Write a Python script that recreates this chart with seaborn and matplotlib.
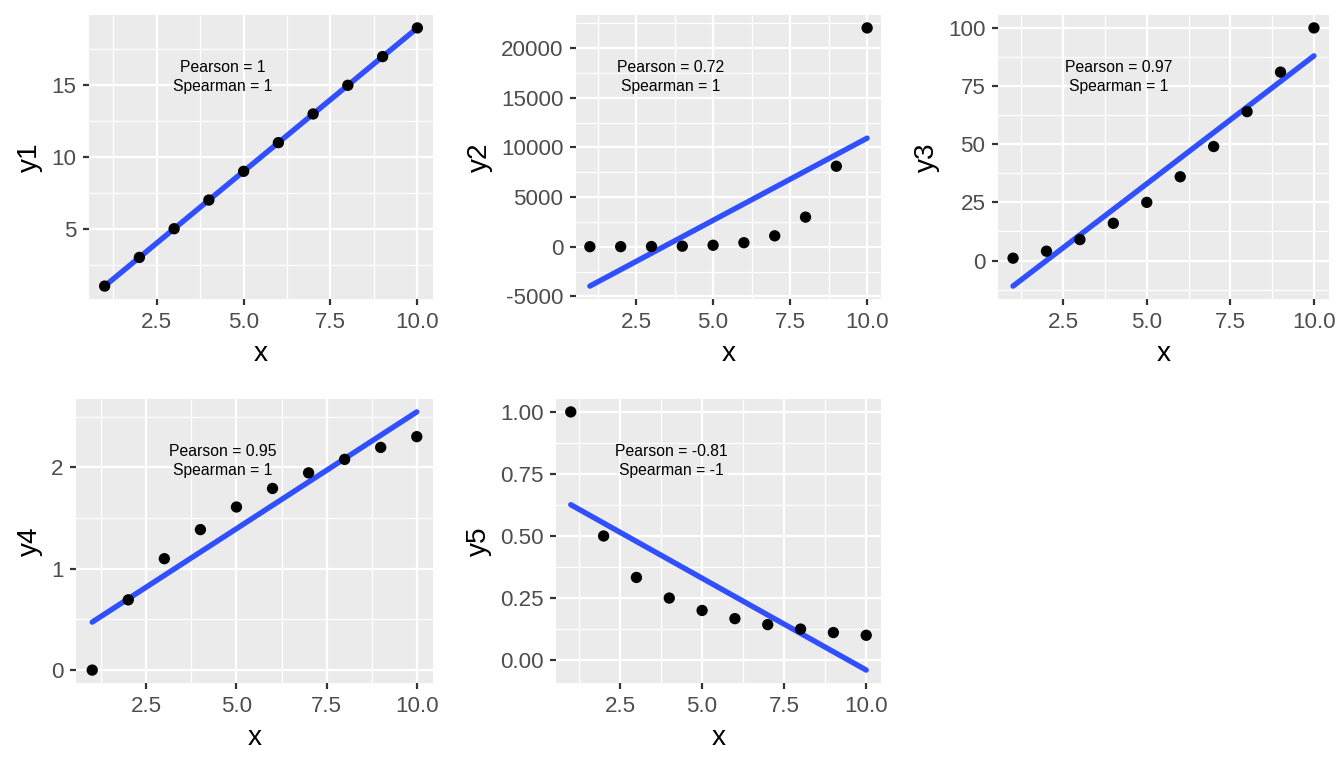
import numpy as np
import pandas as pd
import seaborn as sns
import matplotlib.pyplot as plt
from matplotlib.ticker import FixedLocator, FormatStrFormatter

# data
x = [1, 2, 3, 4, 5, 6, 7, 8, 9, 10]
y1 = [1, 3, 5, 7, 9, 11, 13, 15, 17, 19]
y2 = [2.718, 7.389, 20.09, 54.6, 148.4, 403.4, 1096.6, 2981, 8103, 22026]
y3 = [1, 4, 9, 16, 25, 36, 49, 64, 81, 100]
y4 = [0, 0.693, 1.099, 1.386, 1.609, 1.792, 1.946, 2.079, 2.197, 2.303]
y5 = [1, 0.5, 0.333, 0.25, 0.2, 0.167, 0.143, 0.125, 0.111, 0.1]
names = ["y1", "y2", "y3", "y4", "y5"]
pearson = ["1", "0.72", "0.97", "0.95", "-0.81"]
spearman = ["1", "1", "1", "1", "-1"]
x_ticks = [2.5, 5.0, 7.5, 10.0]
y_ticks = [[5, 10, 15], [-5000, 0, 5000, 10000, 15000, 20000],
           [0, 25, 50, 75, 100], [0, 1, 2], [0, 0.25, 0.5, 0.75, 1.0]]
y_fmt = ["%d", "%d", "%d", "%d", "%.2f"]

df = pd.DataFrame({"x": x, "y1": y1, "y2": y2, "y3": y3, "y4": y4, "y5": y5})

sns.set_theme(style="white")
plt.rcParams["font.family"] = ["Liberation Sans", "DejaVu Sans"]
plt.rcParams["axes.unicode_minus"] = False

W, H = 1344, 768
fig = plt.figure(figsize=(W / 144, H / 144), dpi=144)

# panel extents in pixels: (left, top, right, bottom), and cell origin
panels = [(89, 15, 433, 299), (576, 15, 881, 299), (998, 15, 1329, 299),
          (76, 399, 433, 683), (556, 399, 881, 683)]
cells = [(0, 0), (448, 0), (896, 0), (0, 384), (448, 384)]

for i, name in enumerate(names):
    l, t, r, b = panels[i]
    ax = fig.add_axes([l / W, 1 - b / H, (r - l) / W, (b - t) / H])
    ax.set_facecolor("#EBEBEB")
    for s in ax.spines.values():
        s.set_visible(False)

    sns.regplot(data=df, x="x", y=name, ax=ax, scatter=False, ci=None,
                color="#3050FF", line_kws={"linewidth": 2.7, "zorder": 3})
    sns.scatterplot(data=df, x="x", y=name, ax=ax, color="black", s=32,
                    edgecolor="none", zorder=4)
    ax.margins(0.05)

    xt = x_ticks
    yt = y_ticks[i]
    ax.xaxis.set_major_locator(FixedLocator(xt))
    ax.yaxis.set_major_locator(FixedLocator(yt))
    ax.xaxis.set_minor_locator(FixedLocator([1.25, 3.75, 6.25, 8.75]))
    ystep = yt[1] - yt[0]
    ax.yaxis.set_minor_locator(FixedLocator(
        [yt[0] - ystep / 2] + [v + ystep / 2 for v in yt]))
    ax.xaxis.set_major_formatter(FormatStrFormatter("%.1f"))
    ax.yaxis.set_major_formatter(FormatStrFormatter(y_fmt[i]))

    ax.grid(which="major", color="white", linewidth=1.15)
    ax.grid(which="minor", color="white", linewidth=0.6)
    ax.set_axisbelow(True)
    ax.tick_params(which="major", length=2.8, width=1.1, color="#333333",
                   labelsize=11.2, labelcolor="#4D4D4D", pad=3.5,
                   bottom=True, left=True)
    ax.tick_params(which="minor", length=0)
    ax.set_xlabel("x", fontsize=14, color="black", labelpad=4)
    ax.set_ylabel(name, fontsize=14, color="black", labelpad=4)

    cx, cy = cells[i]
    fig.text((cx + 223) / W, 1 - (cy + 77) / H,
             f"Pearson = {pearson[i]}\nSpearman = {spearman[i]}",
             ha="center", va="center", fontsize=7.9, color="black",
             linespacing=1.25)

fig.savefig("out.png", dpi=144)
